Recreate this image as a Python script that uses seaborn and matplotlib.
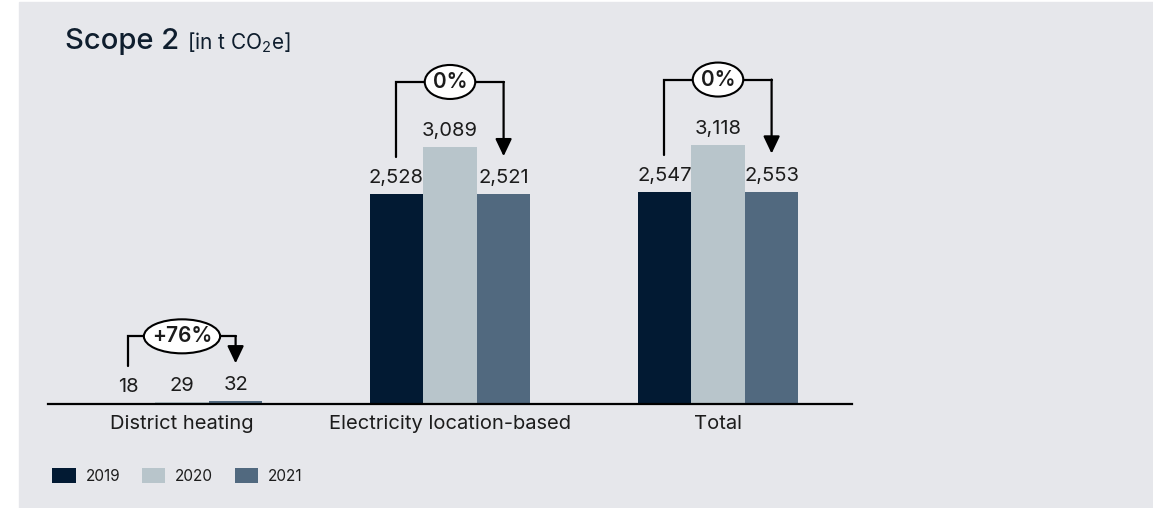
import pandas as pd
import matplotlib.pyplot as plt
from matplotlib.patches import Rectangle, Patch, Ellipse
from matplotlib.transforms import ScaledTranslation
import seaborn as sns

# Data
categories = ["District heating", "Electricity location-based", "Total"]
years = ["2019", "2020", "2021"]
values_2019 = [18, 2528, 2547]
values_2020 = [29, 3089, 3118]
values_2021 = [32, 2521, 2553]
changes = ["+76%", "0%", "0%"]

colors = ["#021a33", "#b8c5cb", "#51697f"]
bg = "#e6e7eb"
ink = "#1c1c1c"

df = pd.DataFrame({
    "category": categories * 3,
    "year": [y for y in years for _ in categories],
    "value": values_2019 + values_2020 + values_2021,
})

sns.set_style("white")
plt.rcParams["font.family"] = ["Inter", "DejaVu Sans"]
plt.rcParams["mathtext.default"] = "regular"

W, H = 1153, 508
fig = plt.figure(figsize=(W / 100, H / 100), dpi=100, facecolor="white")
fig.add_artist(Rectangle((19 / W, 0), 1 - 19 / W, 1 - 2 / H,
                         transform=fig.transFigure, color=bg, zorder=-10))

ax = fig.add_axes([48 / W, 104 / H, 804 / W, 384 / H])
ax.set_facecolor("none")

sns.barplot(data=df, x="category", y="value", hue="year", palette=colors,
            width=0.6, saturation=1, legend=False, linewidth=0, ax=ax)

ymax = 4615
ax.set_ylim(0, ymax)
ax.set_xlim(-0.5, 2.5)

for sp in ["top", "right", "left"]:
    ax.spines[sp].set_visible(False)
ax.spines["bottom"].set_color("black")
ax.spines["bottom"].set_linewidth(1.6)
ax.set_yticks([])
ax.tick_params(axis="x", length=0, pad=8, labelsize=14.5, labelcolor=ink)
ax.set_xlabel("")
ax.set_ylabel("")

for cont in ax.containers:
    ax.bar_label(cont, labels=[f"{v:,.0f}" for v in cont.datavalues],
                 padding=5, fontsize=14.5, color=ink)

# pixel -> data offset
px = ymax / 384.0

fig.canvas.draw()
renderer = fig.canvas.get_renderer()

for i, ch in enumerate(changes):
    b0 = ax.containers[0][i]
    b2 = ax.containers[2][i]
    x0 = b0.get_x() + b0.get_width() / 2
    x2 = b2.get_x() + b2.get_width() / 2
    v0 = values_2019[i]
    v2 = values_2021[i]
    top = max(values_2019[i], values_2020[i], values_2021[i]) + 65 * px
    xc = (x0 + x2) / 2
    ax.plot([x0, x0, x2], [v0 + 37 * px, top, top], color="black", lw=1.6,
            solid_joinstyle="miter", zorder=5)
    ax.annotate("", xy=(x2, v2 + 38 * px), xytext=(x2, top),
                arrowprops=dict(arrowstyle="-|>,head_length=1.05,head_width=0.5",
                                color="black", lw=1.6, shrinkA=0, shrinkB=0),
                zorder=5)
    t = ax.text(xc, top, ch, ha="center", va="center", fontsize=15,
                fontweight="semibold", color=ink, zorder=7)
    tw = t.get_window_extent(renderer).width
    ell = Ellipse((0, 0), (tw + 16) / 100, 34 / 100, fc="white", ec="black", lw=1.5,
                  transform=fig.dpi_scale_trans + ScaledTranslation(xc, top, ax.transData),
                  zorder=6)
    ax.add_artist(ell)

t1 = fig.text(65 / W, 1 - 49 / H, "Scope 2", fontsize=21, fontweight="medium",
              color="#0f1e2e", ha="left", va="baseline")
fig.canvas.draw()
x_end = t1.get_window_extent().x1
fig.text((x_end + 8) / W, 1 - 49 / H, r"[in t CO$_2$e]", fontsize=15,
         color="#0f1e2e", ha="left", va="baseline")

handles = [Patch(facecolor=c, edgecolor="none", label=y) for c, y in zip(colors, years)]
fig.legend(handles=handles, loc="center left", bbox_to_anchor=(52 / W, 1 - 476 / H),
           ncol=3, frameon=False, fontsize=11, handlelength=1.55, handleheight=1.1,
           handletextpad=0.65, columnspacing=1.4, borderpad=0, borderaxespad=0,
           labelcolor=ink)

fig.savefig("out.png", dpi=100, facecolor="white")
